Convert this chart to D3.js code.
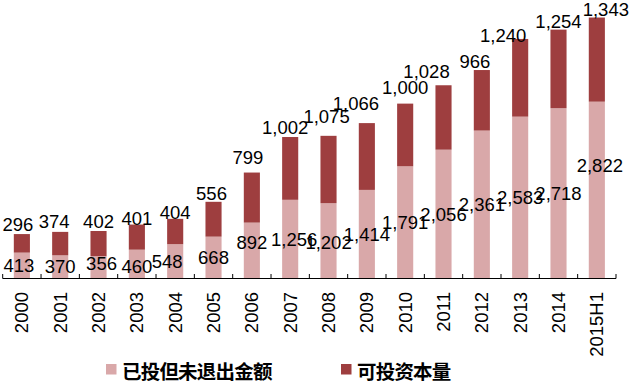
<!DOCTYPE html>
<head>
  <meta charset="utf-8">
  <title>PE capital</title>
  <style>
    body { margin: 0; background: #fff; }
    text { font-family: "Liberation Sans", Arial, sans-serif; }
    .legend text { font-family: "Noto Sans CJK SC", sans-serif; font-weight: bold; }
  </style>
</head>
<body>
  <svg width="631" height="384"></svg>
  <script src="https://d3js.org/d3.v7.min.js"></script>
  <script>
    // categories and series
    var years = ["2000", "2001", "2002", "2003", "2004", "2005", "2006", "2007",
                 "2008", "2009", "2010", "2011", "2012", "2013", "2014", "2015H1"];
    var invested = [413, 370, 356, 460, 548, 668, 892, 1256, 1202, 1414, 1791, 2056, 2361, 2583, 2718, 2822];
    var dryPowder = [296, 374, 402, 401, 404, 556, 799, 1002, 1075, 1066, 1000, 1028, 966, 1240, 1254, 1343];
    var seriesNames = ["已投但未退出金额", "可投资本量"];
    var colors = ["#d9a8a9", "#9e3e3f"];

    // labels were dragged by hand in the original, these are the nudges (px)
    var topDx = [-4, -6, 0, 0, 0, -2, -4, -5, -2, -11, 0, -17, -7, -17, 0, 9];
    var topGap = [3, 4, 3, 0, 0, 2, 9, 3, 13, 13, 10, 7, 2, -3, 2, 2];
    var botDx = [-3, 0, 3, 0, -8, 0, 0, 4, 0, 0, 0, 0, 0, 0, 0, 3];
    var botDy = [0, 0, -4, 2, 0, 0, -8, 0, 2, 0, 0, 0, 0, 0, 0, -25];

    var svg = d3.select("svg");
    var fmt = d3.format(",");

    var data = years.map(function(y, i) {
      return {year: y, a: invested[i], b: dryPowder[i], i: i};
    });

    var x = d3.scaleBand().domain(years).range([2.7, 616]).padding(0);
    var y = d3.scaleLinear().domain([0, 4400]).range([278.5, 2.8]);
    var barW = x.bandwidth() * 0.42;

    //bars
    var g = svg.append("g");
    var cols = g.selectAll("g.col").data(data).enter().append("g")
        .attr("class", "col")
        .attr("transform", function(d) { return "translate(" + (x(d.year) + x.bandwidth() / 2) + ",0)"; });

    cols.append("rect")
        .attr("x", -barW / 2)
        .attr("width", barW)
        .attr("y", function(d) { return y(d.a); })
        .attr("height", function(d) { return y(0) - y(d.a); })
        .attr("fill", colors[0]);

    cols.append("rect")
        .attr("x", -barW / 2)
        .attr("width", barW)
        .attr("y", function(d) { return y(d.a + d.b); })
        .attr("height", function(d) { return y(d.a) - y(d.a + d.b); })
        .attr("fill", colors[1]);

    //axis line with upward ticks
    var axis = svg.append("g");
    axis.append("line")
        .attr("x1", x.range()[0]).attr("x2", x.range()[1])
        .attr("y1", y(0)).attr("y2", y(0))
        .attr("stroke", "#000").attr("stroke-width", 1);
    var edges = years.map(function(d) { return x(d); }).concat([x.range()[1]]);
    axis.selectAll("line.tick").data(edges).enter().append("line")
        .attr("class", "tick")
        .attr("x1", function(d) { return d; }).attr("x2", function(d) { return d; })
        .attr("y1", y(0)).attr("y2", y(0) - 4.5)
        .attr("stroke", "#000").attr("stroke-width", 1);

    //value labels
    cols.append("text")
        .attr("x", function(d) { return topDx[d.i]; })
        .attr("y", function(d) { return y(d.a + d.b) - topGap[d.i]; })
        .attr("text-anchor", "middle")
        .attr("font-size", 18.5)
        .attr("fill", "#000")
        .text(function(d) { return fmt(d.b); });

    cols.append("text")
        .attr("x", function(d) { return botDx[d.i]; })
        .attr("y", function(d) { return (y(0) + y(d.a)) / 2 + botDy[d.i]; })
        .attr("dy", "0.35em")
        .attr("text-anchor", "middle")
        .attr("font-size", 18.5)
        .attr("fill", "#000")
        .text(function(d) { return fmt(d.a); });

    //x labels, rotated
    svg.append("g").selectAll("text").data(years).enter().append("text")
        .attr("transform", function(d) { return "translate(" + (x(d) + x.bandwidth() / 2) + ",292) rotate(-90)"; })
        .attr("text-anchor", "end")
        .attr("dy", "0.35em")
        .attr("font-size", 18.5)
        .text(function(d) { return d; });

    //legend
    var legend = svg.append("g").attr("class", "legend")
        .selectAll("g").data(seriesNames).enter().append("g")
        .attr("transform", function(d, i) { return "translate(" + (i === 0 ? 106 : 341) + ",364)"; });
    legend.append("rect")
        .attr("width", 10.5).attr("height", 10.5)
        .attr("fill", function(d, i) { return colors[i]; });
    legend.append("text")
        .attr("x", 16).attr("y", 7.5)
        .attr("dy", "0.36em")
        .attr("font-size", 19.5)
        .attr("letter-spacing", -0.8)
        .text(function(d) { return d; });
  </script>
</body>
